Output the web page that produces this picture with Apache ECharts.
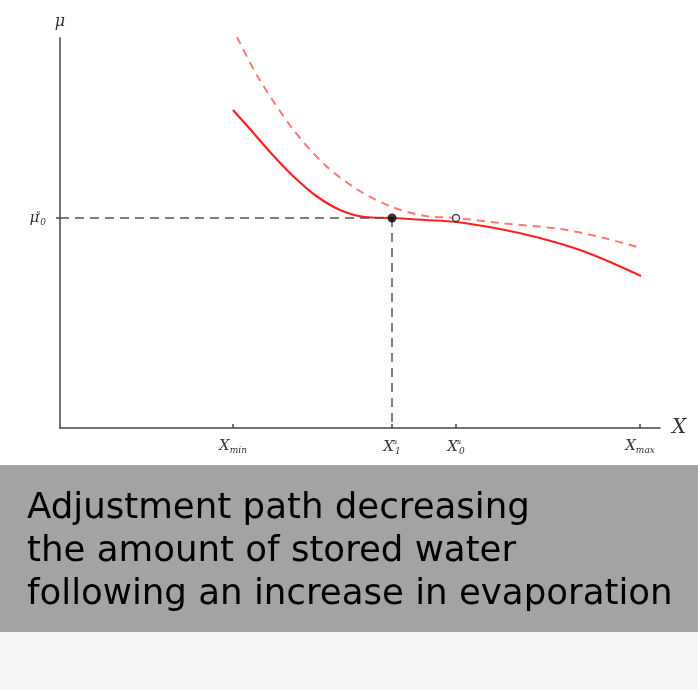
<!DOCTYPE html>
<html>
<head>
<meta charset="utf-8">
<script src="https://cdn.jsdelivr.net/npm/echarts@6/dist/echarts.min.js"></script>
<style>
  html, body { margin: 0; padding: 0; background: #fff; }
  #main { width: 698px; height: 690px; }
</style>
</head>
<body>
<div id="main"></div>
<script>
// curve before the increase in evaporation (dashed) and after (solid)
var solidX = [173, 190, 210, 232, 255, 280, 305, 332, 365, 396, 440, 480, 520, 550, 581];
var solidY = [318, 299, 276, 253, 233, 218, 211, 210, 208, 206, 199, 190, 178, 166, 152];
var dashX = [177, 198, 232, 265, 298, 332, 365, 396, 440, 500, 540, 581];
var dashY = [391, 351, 300, 263, 238, 221, 212, 210, 205, 199, 191, 180];

// equilibrium points
var x1s = 332, x0s = 396, mu0s = 210;
var xTicks = [173, 332, 396, 580];
var xTickLabels = ['{x|X}{sub|min}', '{x|X}{sup|s}{sub|1}', '{x|X}{sup|s}{sub|0}', '{x|X}{sub|max}'];
var yTicks = [mu0s];
var yTickLabels = ['{x|μ}{sup|s}{sub|0}'];

var captionLines = [
  'Adjustment path decreasing',
  'the amount of stored water',
  'following an increase in evaporation'
];

function pairs(xs, ys) {
  var out = [];
  for (var i = 0; i < xs.length; i++) out.push([xs[i], ys[i]]);
  return out;
}

var labelRich = {
  x: { fontFamily: 'DejaVu Serif', fontStyle: 'italic', fontSize: 15, color: '#333' },
  sub: { fontFamily: 'DejaVu Serif', fontStyle: 'italic', fontSize: 9, color: '#333', verticalAlign: 'bottom', padding: [8, 0, 0, 0] },
  sup: { fontFamily: 'DejaVu Serif', fontStyle: 'italic', fontSize: 8, color: '#333', width: 0, padding: [0, 0, 10, 1] }
};

var chart = echarts.init(document.getElementById('main'));

var option = {
  backgroundColor: '#fff',
  animation: false,
  grid: { left: 60, right: 38, top: 38, bottom: 262 },
  xAxis: {
    type: 'value', min: 0, max: 600,
    name: 'X', nameLocation: 'end', nameGap: 12,
    nameTextStyle: { fontFamily: 'DejaVu Serif', fontStyle: 'italic', fontSize: 20, color: '#333', verticalAlign: 'middle' },
    axisLine: { lineStyle: { color: '#444', width: 1.5 } },
    axisTick: { show: true, inside: true, length: 4, customValues: xTicks, lineStyle: { color: '#444', width: 1.5 } },
    axisLabel: {
      customValues: xTicks, margin: 10,
      formatter: function (v) { return xTickLabels[xTicks.indexOf(v)]; },
      rich: labelRich
    },
    splitLine: { show: false }
  },
  yAxis: {
    type: 'value', min: 0, max: 390,
    name: 'μ', nameLocation: 'end', nameGap: 8,
    nameTextStyle: { fontFamily: 'DejaVu Serif', fontStyle: 'italic', fontSize: 16, color: '#333', align: 'center' },
    axisLine: { show: true, lineStyle: { color: '#444', width: 1.5 } },
    axisTick: { show: true, length: 4, customValues: yTicks, lineStyle: { color: '#444', width: 1.5 } },
    axisLabel: {
      customValues: yTicks, margin: 14,
      formatter: function (v) { return yTickLabels[yTicks.indexOf(v)]; },
      rich: labelRich
    },
    splitLine: { show: false }
  },
  series: [
    {
      type: 'line', data: pairs(dashX, dashY), smooth: 0.3, symbol: 'none',
      lineStyle: { color: '#ff4a4a', width: 2, type: [8, 6], opacity: 0.75 }
    },
    {
      type: 'line', data: pairs(solidX, solidY), smooth: 0.3, symbol: 'none',
      lineStyle: { color: '#ff2020', width: 2.2 },
      markLine: {
        silent: true, symbol: 'none', label: { show: false },
        lineStyle: { color: '#555', type: [9, 6], width: 1.5 },
        data: [
          [{ coord: [0, mu0s] }, { coord: [x1s, mu0s] }],
          [{ coord: [x1s, mu0s] }, { coord: [x1s, 0] }]
        ]
      },
      z: 3
    },
    {
      type: 'scatter', data: [[x1s, mu0s]], symbolSize: 9,
      itemStyle: { color: '#000' }, z: 5
    },
    {
      type: 'scatter', data: [[x0s, mu0s]], symbolSize: 7,
      itemStyle: { color: '#fff', borderColor: '#222', borderWidth: 1.5 }, z: 5
    }
  ],
  graphic: [
    { type: 'rect', shape: { x: 0, y: 465, width: 698, height: 167 }, style: { fill: '#a3a3a3' } },
    { type: 'rect', shape: { x: 0, y: 632, width: 698, height: 58 }, style: { fill: '#f6f6f6' } },
    { type: 'text', left: 27, top: 491, style: { text: captionLines[0], font: '35.6px "DejaVu Sans"', fill: '#000' } },
    { type: 'text', left: 27, top: 534, style: { text: captionLines[1], font: '35.6px "DejaVu Sans"', fill: '#000' } },
    { type: 'text', left: 27, top: 577, style: { text: captionLines[2], font: '35.6px "DejaVu Sans"', fill: '#000' } }
  ]
};

chart.setOption(option);
</script>
</body>
</html>
